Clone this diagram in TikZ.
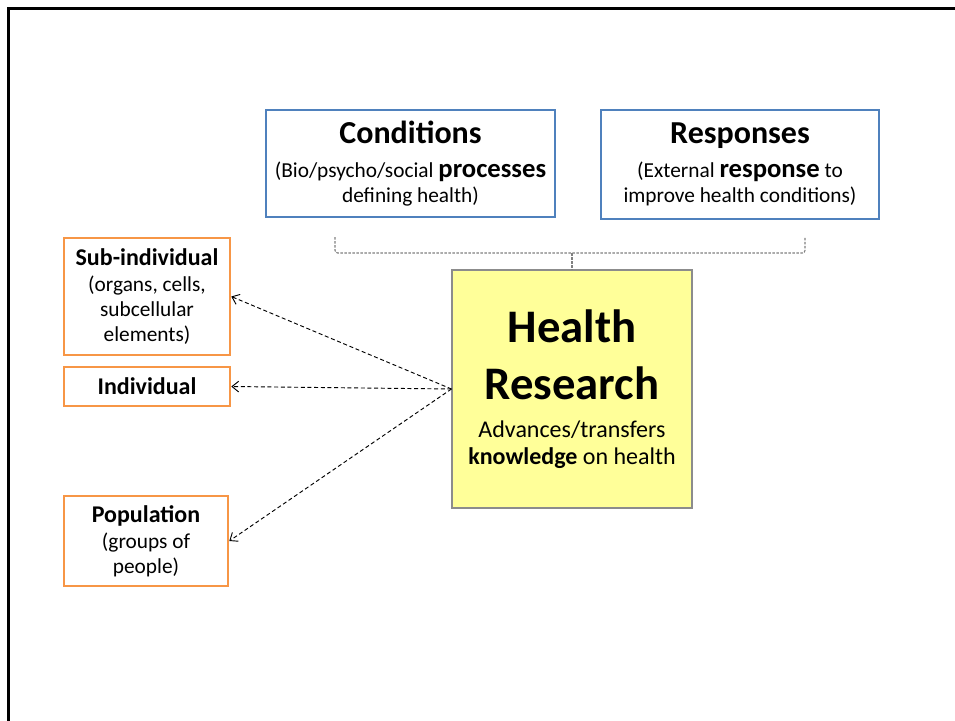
\documentclass[tikz,border=0pt]{standalone}
\usepackage{fontspec}
\setmainfont{Carlito}
\usetikzlibrary{calc}
\usetikzlibrary{arrows.meta}
\definecolor{boxBlue}{HTML}{4F81BD}
\definecolor{boxOrange}{HTML}{F79646}
\definecolor{noteYellow}{HTML}{FFFF99}
\definecolor{noteGray}{HTML}{8C8C8C}
\tikzset{
  box/.style = {draw=#1, line width=1.5pt, fill=white, align=center, inner sep=0pt},
  size/.style 2 args = {minimum width=#1*0.75pt, minimum height=#2*0.75pt},
  level/.style = {box={boxOrange}, line width=1.9pt, font=\fontsize{16}{18.75}\selectfont},
  aspect/.style = {box={boxBlue}, font=\fontsize{16}{19}\selectfont},
  core/.style = {draw=noteGray, line width=0.8pt, fill=noteYellow, align=center, inner sep=0pt,
                 font=\fontsize{18}{20}\selectfont},
  bracket/.style = {color=#1, line width=0.8pt, dash pattern=on 2pt off 1pt},
  link/.style = {color=#1, line width=0.7pt, dash pattern=on 3pt off 2pt, -{Straight Barb[length=5pt,width=8pt]}},
  frame/.style = {color=#1, line width=2.2pt}
}
\newcommand{\hd}[1]{{\fontsize{24}{24}\selectfont\bfseries #1}}
\newcommand{\kw}[1]{{\fontsize{20}{20}\selectfont\bfseries #1}}
\newcommand{\lv}[1]{{\fontsize{18}{18}\selectfont\bfseries #1}}
\newcommand{\hr}[1]{{\fontsize{35}{35}\selectfont\bfseries #1}}

\begin{document}
\begin{tikzpicture}[x=0.75pt, y=-0.75pt]

    \useasboundingbox (0,0) rectangle (955,720);

    % Frame
    \draw[frame={black}] (8.5,725) -- (8.5,8.5) -- (960,8.5);

    % Aspects
    \node[aspect, size={289}{107}] (cond) at (410.5,163.5)
        {\hd{Conditions}\\[6.5pt]
         (Bio/psycho/social \kw{processes}\\
         defining health)};
    \node[aspect, size={278}{109}] (resp) at (740,164.5)
        {\hd{Responses}\\[6.5pt]
         (External \kw{response} to\\
         improve health conditions)};

    % Health research
    \node[core, size={240}{238}] (health) at (572,389)
        {\hr{Health}\\[17pt]
         \hr{Research}\\[9pt]
         Advances/transfers\\
         \textbf{knowledge} on health};

    % Levels
    \node[level, size={166}{117}] (sub) at (147,296.5)
        {\lv{Sub-individual}\\[1pt]
         (organs, cells,\\ subcellular\\ elements)};
    \node[level, size={166}{39}] (indiv) at (147,386.5)
        {\lv{Individual}};
    \node[level, size={164}{90}] (pop) at (146,541)
        {\lv{Population}\\[1pt]
         (groups of\\ people)};

    % Bracket
    \coordinate (braceL) at (335,237);
    \coordinate (braceR) at (805,237);
    \coordinate (braceM) at (572,253);
    \draw[bracket={gray}, rounded corners=2pt] (braceL) |- (braceM) -| (braceR);
    \draw[bracket={gray}] (braceM) -- (health.north);

    % Links
    \foreach \target in {sub,indiv,pop} {
        \draw[link={black}] (health.west) -- (\target.east);
    }

\end{tikzpicture}
\end{document}
